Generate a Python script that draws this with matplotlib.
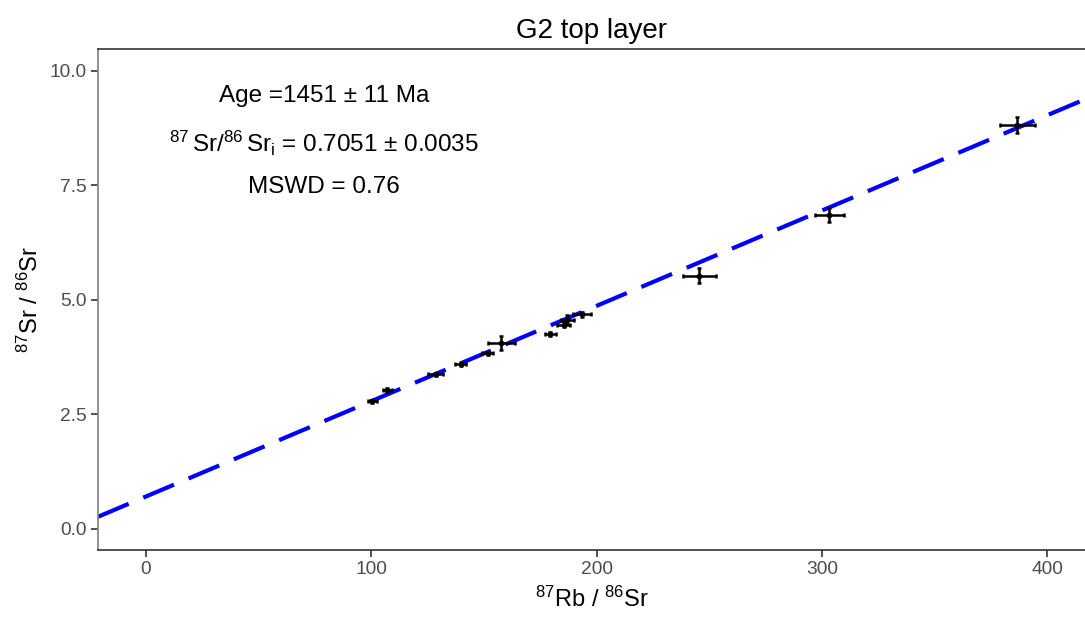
import matplotlib.pyplot as plt
import numpy as np

plt.rcParams['font.family'] = ['Liberation Sans', 'DejaVu Sans']
plt.rcParams['mathtext.fontset'] = 'custom'
plt.rcParams['mathtext.rm'] = 'Liberation Sans'
plt.rcParams['mathtext.it'] = 'Liberation Sans:italic'
plt.rcParams['mathtext.default'] = 'regular'

# isochron data: 87Rb/86Sr and 87Sr/86Sr with errors
rb_sr = np.array([100.5, 107.0, 128.5, 139.6, 151.6, 157.7, 179.5, 185.3, 187.0, 193.5, 245.6, 303.2, 386.6])
rb_sr_err = np.array([2.0, 2.0, 3.5, 2.5, 2.5, 6.1, 2.5, 3.0, 3.0, 4.0, 7.3, 6.4, 7.8])
sr_sr = np.array([2.78, 3.03, 3.37, 3.59, 3.83, 4.06, 4.26, 4.46, 4.57, 4.68, 5.53, 6.86, 8.82])
sr_sr_err = np.array([0.03, 0.05, 0.03, 0.03, 0.04, 0.15, 0.04, 0.05, 0.09, 0.05, 0.16, 0.15, 0.18])

age_ma = 1451
sr_initial = 0.7051
decay = 1.42e-11
slope = np.exp(decay * age_ma * 1e6) - 1

fig = plt.figure(figsize=(10.85, 6.19), dpi=100)
ax = fig.add_axes([0.0903, 0.111, 0.9097, 0.810])

xlim = (-21.3, 416.7)
xx = np.array(xlim)
ax.plot(xx, sr_initial + slope * xx, color='#0000ff', lw=3, ls=(0, (8, 3.8)), zorder=2)

ax.errorbar(rb_sr, sr_sr, xerr=rb_sr_err, yerr=sr_sr_err, fmt='o', ms=3.2,
            color='black', ecolor='black', elinewidth=1.8, capsize=1.5, capthick=1.8, zorder=3)

ax.set_xlim(xlim)
ax.set_ylim(-0.47, 10.48)
ax.set_xticks([0, 100, 200, 300, 400])
ax.set_yticks([0, 2.5, 5.0, 7.5, 10.0])
ax.set_yticklabels(['0.0', '2.5', '5.0', '7.5', '10.0'])
ax.tick_params(labelsize=13.8, colors='#333333', labelcolor='#4d4d4d', length=5, width=1.2, pad=3)

ax.spines['right'].set_visible(False)
ax.spines['left'].set_color('#808080')
ax.spines['bottom'].set_color('#333333')
ax.spines['top'].set_color('#333333')
for s in ['left', 'bottom', 'top']:
    ax.spines[s].set_linewidth(1.2)

ax.set_xlabel(r'$^{87}$Rb / $^{86}$Sr', fontsize=17, labelpad=6)
ax.set_ylabel(r'$^{87}$Sr / $^{86}$Sr', fontsize=17, labelpad=5)
ax.set_title('G2 top layer', fontsize=20, pad=8)

ax.text(79, 9.45, f'Age ={age_ma} ± 11 Ma', fontsize=17.5, ha='center', va='center')
ax.text(79, 8.42, r'$^{87}\,$Sr/$^{86}\,$Sr$_{i}$' + ' = 0.7051 ± 0.0035',
        fontsize=17.5, ha='center', va='center')
ax.text(79, 7.46, 'MSWD = 0.76', fontsize=17.5, ha='center', va='center')

fig.savefig('out.png', dpi=100)
